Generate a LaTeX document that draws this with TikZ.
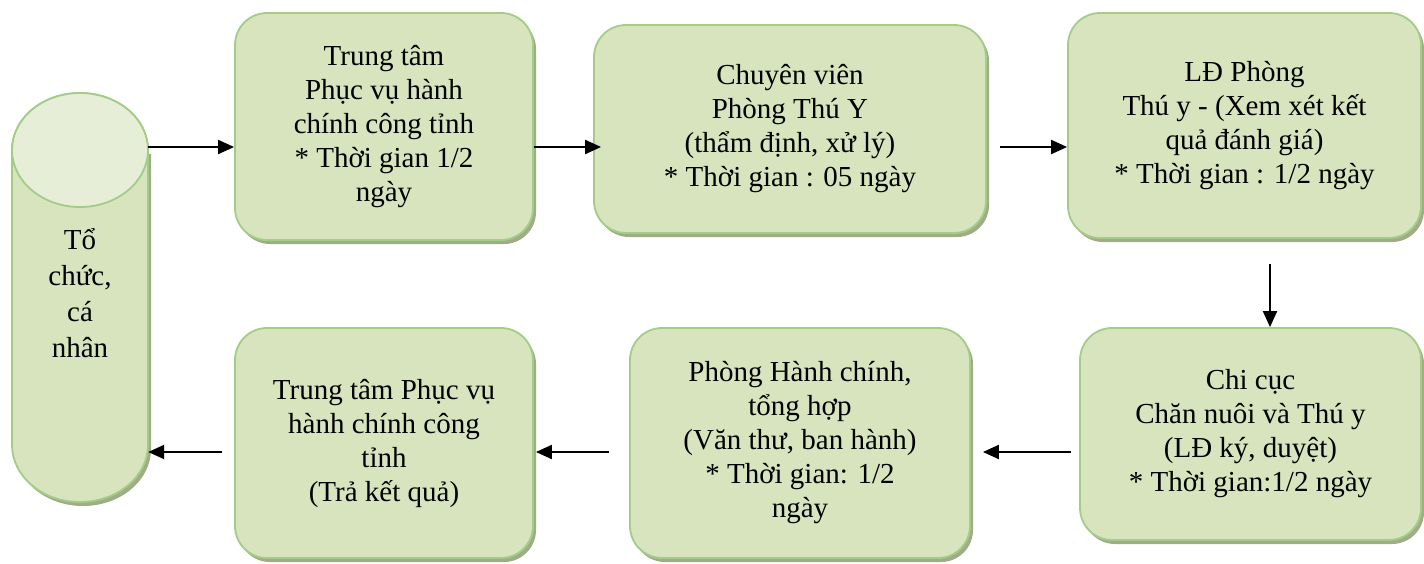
\documentclass[tikz,border=0pt]{standalone}
\usepackage{fontspec}
\setmainfont{Liberation Serif}
\usetikzlibrary{arrows.meta,positioning,shadows}
\definecolor{boxfill}{HTML}{D7E4BD}
\definecolor{boxline}{HTML}{A3CC87}
\definecolor{boxshade}{HTML}{9FAD87}
\definecolor{capfill}{HTML}{E6EED8}

\begin{document}
\begin{tikzpicture}[
    x=1pt, y=-1pt,
    box/.style={draw=boxline, line width=1.8pt, fill=boxfill, rounded corners=32pt, align=center, inner sep=0pt,
      font=\fontsize{29}{34}\selectfont,
      drop shadow={shadow xshift=3pt, shadow yshift=-4pt, fill=boxshade, opacity=1}},
    cyl/.style={draw=boxline, line width=1.8pt, fill=boxfill},
    arrow/.style={-{Triangle[length=16pt,width=14pt]}, line width=2pt}
  ]
  \useasboundingbox (0,0) rectangle (1424,563);

  % Cylinder (Organisation)
  \fill[boxshade] (15,154) -- (15,449) arc[start angle=180, end angle=0, x radius=68, y radius=57] -- (151,154) -- cycle;
  \draw[cyl] (12,150) -- (12,445) arc[start angle=180, end angle=0, x radius=68, y radius=57]
    -- (148,150) arc[start angle=0, end angle=-180, x radius=68, y radius=57] -- cycle;
  \draw[cyl, fill=capfill] (80,150) ellipse [x radius=68, y radius=57];
  \node[inner sep=0pt, minimum width=136pt, minimum height=400pt, align=center,
    font=\fontsize{29}{36}\selectfont] (org) at (80,293) {Tổ\\chức,\\cá\\nhân};

  % Main components
  \node[box, minimum width=298pt, minimum height=227pt] (center_in) at (384,126.5)
    {Trung tâm\\Phục vụ hành\\chính công tỉnh\\* Thời gian 1/2\\ngày};
  \node[box, minimum width=392pt, minimum height=208pt] (expert) at (790,129)
    {Chuyên viên\\Phòng Thú Y\\(thẩm định, xử lý)\\* Thời gian : 05 ngày};
  \node[box, minimum width=353pt, minimum height=225pt] (head) at (1244.5,125.5)
    {LĐ Phòng\\Thú y - (Xem xét kết\\quả đánh giá)\\* Thời gian : 1/2 ngày};
  \node[box, minimum width=341pt, minimum height=212pt] (branch) at (1250.5,434)
    {Chi cục\\Chăn nuôi và Thú y\\(LĐ ký, duyệt)\\* Thời gian:1/2 ngày};
  \node[box, minimum width=340pt, minimum height=230pt] (office) at (800,443)
    {Phòng Hành chính,\\tổng hợp\\(Văn thư, ban hành)\\* Thời gian: 1/2\\ngày};
  \node[box, minimum width=298pt, minimum height=230pt] (center_out) at (384,443)
    {Trung tâm Phục vụ\\hành chính công\\tỉnh\\(Trả kết quả)};

  % Arrow rows
  \coordinate (row1) at (0,147);
  \coordinate (row2) at (0,452);
  \coordinate (col) at (1270,0);

  % Connections
  \draw[arrow] (org.east |- row1) -- (center_in.west |- row1);
  \draw[arrow, shorten >=-8pt] (center_in.east |- row1) -- (expert.west |- row1);
  \draw[arrow, shorten <=13pt] (expert.east |- row1) -- (head.west |- row1);
  \draw[arrow, shorten <=25pt] (head.south -| col) -- (branch.north -| col);
  \draw[arrow, shorten <=8pt, shorten >=12pt] (branch.west |- row2) -- (office.east |- row2);
  \draw[arrow, shorten <=20pt, shorten >=2pt] (office.west |- row2) -- (center_out.east |- row2);
  \draw[arrow, shorten <=12pt] (center_out.west |- row2) -- (org.east |- row2);

\end{tikzpicture}
\end{document}
